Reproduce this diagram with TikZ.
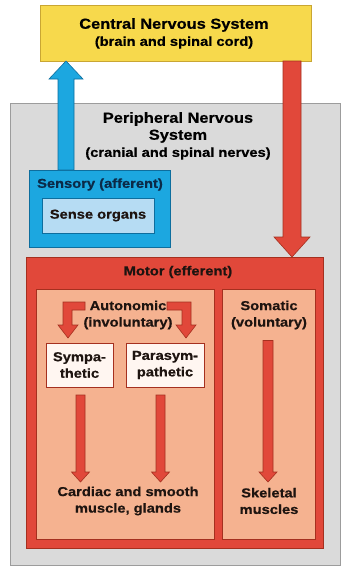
\documentclass[tikz,border=0pt]{standalone}
\usepackage{fontspec}
\setmainfont[FakeStretch=1.13, BoldFeatures={FakeBold=0.6}]{Liberation Sans}
\usetikzlibrary{calc}
\definecolor{cnsyel}{HTML}{F7D94C}
\definecolor{cnsedge}{HTML}{C9A633}
\definecolor{pnsgrey}{HTML}{DADADA}
\definecolor{pnsedge}{HTML}{9C9C9C}
\definecolor{sensblue}{HTML}{1CA7E0}
\definecolor{sensedge}{HTML}{0D6E9E}
\definecolor{lightblue}{HTML}{B6DCF3}
\definecolor{motred}{HTML}{E1483A}
\definecolor{rededge}{HTML}{A5301F}
\definecolor{salmon}{HTML}{F5B290}
\definecolor{palebox}{HTML}{FFF6F1}
\definecolor{navytext}{HTML}{0B2A48}
\definecolor{darktext}{HTML}{1E1410}
\newcommand\myvarrow[6][]{%
  \draw[#1] ($(#2)+(-#4,0)$) -- ($(#3)+(-#4,#6)$) -- ($(#3)+(-#5,#6)$) -- (#3)
    -- ($(#3)+(#5,#6)$) -- ($(#3)+(#4,#6)$) -- ($(#2)+(#4,0)$) -- cycle;}
\tikzset{
  boxbase/.style={rectangle, inner sep=0pt, outer sep=0pt},
  lbl/.style={align=center, inner sep=0pt, font=\fontsize{13}{16.5}\selectfont\bfseries, text=darktext},
  bigt/.style={font=\fontsize{14.5}{17}\selectfont\bfseries},
  redarrow/.style={fill=motred, draw=rededge, line width=0.6pt, line join=miter},
  bluearrow/.style={fill=sensblue, draw=sensedge, line width=0.6pt, line join=miter},
}
\begin{document}
\begin{tikzpicture}[x=1pt,y=-1pt]
\useasboundingbox[fill=white] (0,0) rectangle (352,573);
% Peripheral nervous system box
\node[boxbase, fill=pnsgrey, draw=pnsedge, line width=0.8pt, minimum width=330pt, minimum height=462pt] (pns) at (175,334) {};
\node[lbl, bigt, text=black] (pnstitle) at (178,127.5) {Peripheral Nervous\\System};
\node[lbl, text=black] (pnssub) at (178,153.5) {(cranial and spinal nerves)};
% CNS
\node[boxbase, fill=cnsyel, draw=cnsedge, line width=0.8pt, minimum width=271pt, minimum height=56pt] (cns) at (175.5,33) {};
\node[lbl, bigt, text=black] (cnstitle) at (174,25) {Central Nervous System};
\node[lbl, text=black] (cnssub) at (174,42.5) {(brain and spinal cord)};
% Sensory
\node[boxbase, fill=sensblue, draw=sensedge, line width=0.8pt, minimum width=141pt, minimum height=77pt] (sens) at (99.5,208.5) {};
\node[lbl, text=navytext] (senslabel) at (100,184.5) {Sensory (afferent)};
\node[boxbase, fill=lightblue, draw=sensedge, line width=0.6pt, minimum width=112pt, minimum height=35pt, lbl, text=darktext] (organs) at (98,215.5) {Sense organs};
% Motor
\node[boxbase, fill=motred, draw=rededge, line width=0.8pt, minimum width=297pt, minimum height=291pt] (motor) at (174.5,402.5) {};
\node[lbl] (motorlabel) at (178,272) {Motor (efferent)};
\node[boxbase, fill=salmon, draw=rededge, line width=0.6pt, minimum width=178pt, minimum height=250pt] (auto) at (125,414) {};
\node[boxbase, fill=salmon, draw=rededge, line width=0.6pt, minimum width=93pt, minimum height=250pt] (soma) at (268.5,414) {};
\node[lbl] (autolabel) at (128,315) {Autonomic\\(involuntary)};
\node[lbl] (somalabel) at (269,315) {Somatic\\(voluntary)};
\node[boxbase, fill=palebox, draw=rededge, line width=0.6pt, minimum width=67pt, minimum height=44pt, lbl] (symp) at (79.5,365) {Sympa-\\thetic};
\node[boxbase, fill=palebox, draw=rededge, line width=0.6pt, minimum width=78pt, minimum height=44pt, lbl] (para) at (165,365) {Parasym-\\pathetic};
\node[lbl] (cardiac) at (128,501) {Cardiac and smooth\\muscle, glands};
\node[lbl] (skeletal) at (269,501) {Skeletal\\muscles};
% Arrows between systems
\coordinate (bluefrom) at (sens.north -| 66,0);
\coordinate (blueto) at (cns.south -| 66,0);
\myvarrow[bluearrow]{bluefrom}{blueto}{8}{17}{18}
\coordinate (redfrom) at (cns.south -| 292,0);
\coordinate (redto) at (motor.north -| 292,0);
\myvarrow[redarrow]{redfrom}{redto}{9}{18}{-20}
% Bent autonomic arrows
\coordinate (lt) at ($(symp.north)+(-11.5,-5)$);
\draw[redarrow] ($(lt)+(17,-36)$) -- ($(lt)+(-5,-36)$) -- ($(lt)+(-5,-13)$) -- ($(lt)+(-10,-13)$) -- (lt)
  -- ($(lt)+(10,-13)$) -- ($(lt)+(4,-13)$) -- ($(lt)+(4,-28)$) -- ($(lt)+(17,-28)$) -- cycle;
\coordinate (rt) at ($(para.north)+(21,-5)$);
\draw[redarrow] ($(rt)+(-19,-36)$) -- ($(rt)+(5,-36)$) -- ($(rt)+(5,-13)$) -- ($(rt)+(10,-13)$) -- (rt)
  -- ($(rt)+(-10,-13)$) -- ($(rt)+(-4,-13)$) -- ($(rt)+(-4,-28)$) -- ($(rt)+(-19,-28)$) -- cycle;
% Down arrows to effectors
\coordinate (s1) at ($(symp.south)+(1,8)$);
\coordinate (s2) at ($(symp.south)+(1,95)$);
\myvarrow[redarrow]{s1}{s2}{4.5}{9}{-10}
\coordinate (p1) at ($(para.south)+(-4.5,8)$);
\coordinate (p2) at ($(para.south)+(-4.5,95)$);
\myvarrow[redarrow]{p1}{p2}{4.5}{9}{-10}
\coordinate (m1) at ($(somalabel.south)+(-1,11)$);
\coordinate (m2) at (m1 |- s2);
\myvarrow[redarrow]{m1}{m2}{5}{9}{-10}
\end{tikzpicture}
\end{document}
